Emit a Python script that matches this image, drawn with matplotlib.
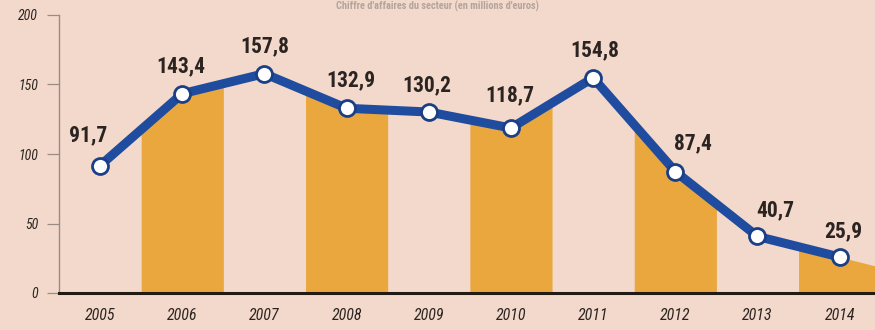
import numpy as np
import matplotlib.pyplot as plt

years = [2005, 2006, 2007, 2008, 2009, 2010, 2011, 2012, 2013, 2014]
values = [91.7, 143.4, 157.8, 132.9, 130.2, 118.7, 154.8, 87.4, 40.7, 25.9]
labels = ["91,7", "143,4", "157,8", "132,9", "130,2", "118,7", "154,8", "87,4", "40,7", "25,9"]
y_ticks = [0, 50, 100, 150, 200]
title = "Chiffre d'affaires du secteur (en millions d'euros)"

# label nudges in pixels (x, y) relative to the point
label_dx = [-12, -1, 0, 4, -2, -1, 2, 18, 18, 4]
label_dy = [30, 27, 27, 28, 27, 33, 28, 28, 26, 26]

bg = "#f3d9cc"
orange = "#e9a73e"
blue = "#1f4c9e"
dark = "#2b2420"
cond = ["Roboto Condensed", "Liberation Sans Narrow", "DejaVu Sans"]

fig = plt.figure(figsize=(8.75, 3.3), dpi=100, facecolor=bg)
ax = fig.add_axes([59 / 875, 1 - 293 / 330, 1 - 59 / 875, (293 - 15) / 330])
ax.set_facecolor(bg)

x = np.array(years, dtype=float)
y = np.array(values)
x0, x1 = x[0] - 0.5, x[-1] + 0.43

# orange bands under the line, every other year
slope = (y[-1] - y[-2]) / (x[-1] - x[-2])
for i in range(1, len(x), 2):
    xs = np.linspace(x[i] - 0.5, min(x[i] + 0.5, x1), 60)
    ys = np.interp(xs, x, y)
    ys = np.where(xs > x[-1], y[-1] + slope * (xs - x[-1]), ys)
    ax.fill_between(xs, 0, ys, color=orange, lw=0, zorder=1)

ax.plot(x, y, color=blue, lw=6.5, solid_capstyle="round", zorder=3)
ax.plot(x, y, "o", ms=11.5, mfc="white", mec="#1b3f86", mew=2, zorder=4)

for xi, yi, lab, dx, dy in zip(x, y, labels, label_dx, label_dy):
    ax.annotate(lab, (xi, yi), xytext=(dx * 0.72, dy * 0.72), textcoords="offset points",
                ha="center", va="center", fontsize=15.5, fontweight="bold",
                fontstretch="condensed", color=dark, family=cond, zorder=5)

ax.set_xlim(x0, x1)
ax.set_ylim(0, 200)
ax.set_xticks(years)
ax.set_xticklabels([str(v) for v in years], fontsize=11.5, style="italic",
                   fontstretch="condensed", color=dark, family=cond)
ax.set_yticks(y_ticks)
ax.set_yticklabels([str(v) for v in y_ticks], fontsize=10, style="italic",
                   fontstretch="condensed", color=dark, family=cond)
ax.tick_params(axis="x", length=0, pad=11)
ax.tick_params(axis="y", length=9, width=0.9, color="#9a8c84", pad=6)

for s in ["top", "right"]:
    ax.spines[s].set_visible(False)
ax.spines["left"].set_color("#9a8c84")
ax.spines["left"].set_linewidth(1.0)
ax.spines["bottom"].set_color("#241a14")
ax.spines["bottom"].set_linewidth(2.2)
ax.spines["bottom"].set_zorder(6)

fig.text(0.5, 0.999, title, ha="center", va="top", fontsize=7.5, fontweight="bold",
         fontstretch="condensed", color="#b3a49c", family=cond)

fig.savefig("out.png", dpi=100, facecolor=bg)
